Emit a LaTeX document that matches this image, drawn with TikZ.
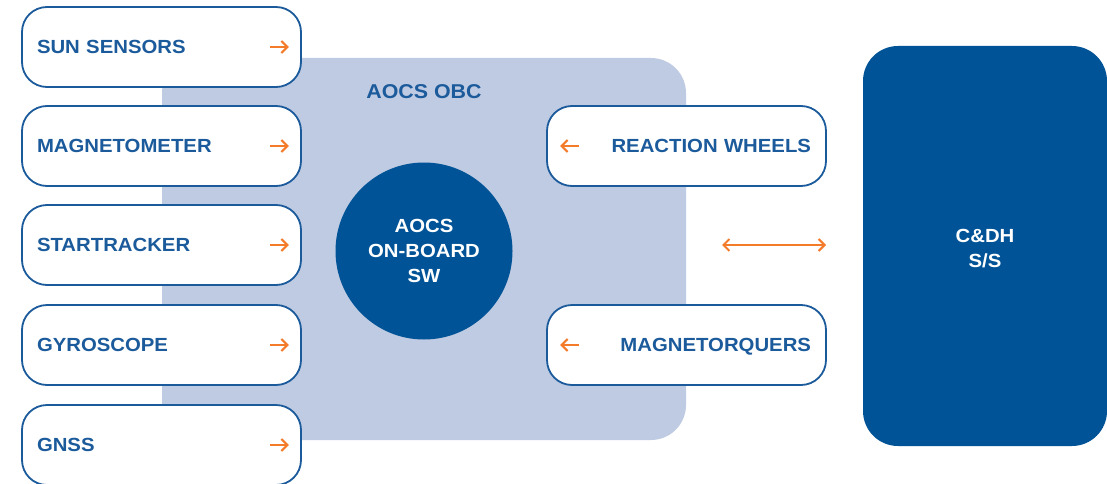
\documentclass[tikz,border=0pt]{standalone}
\usepackage{fontspec}
\setmainfont{Liberation Sans}
\newfontfamily\labfont[FakeStretch=1.07]{Liberation Sans}
\usetikzlibrary{arrows.meta}
\definecolor{navy}{HTML}{1B5A9B}
\definecolor{deep}{HTML}{005396}
\definecolor{pale}{HTML}{BFCBE2}
\definecolor{orng}{HTML}{F47B2A}
\begin{document}
\begin{tikzpicture}[x=1pt,y=1pt,
  lab/.style={font=\labfont\bfseries\fontsize{19}{25}\selectfont},
  inbox/.style={draw=navy, line width=1.8pt, fill=white, rounded corners=25pt,
    minimum width=279pt, minimum height=80pt, text=navy, lab, anchor=center,
    text height=13.7pt, text depth=0pt},
  lbox/.style={inbox, text width=249pt, align=left, inner xsep=15pt},
  rbox/.style={inbox, text width=249pt, align=right, inner xsep=14pt},
  oarrow/.style={draw=orng, line width=2.1pt, -{Straight Barb[length=6pt,width=12pt]}},
  darrow/.style={draw=orng, line width=2.1pt, {Straight Barb[length=6pt,width=12pt]}-{Straight Barb[length=6pt,width=12pt]}}
]
\useasboundingbox (0,0) rectangle (1107,483);
\clip (0,0) rectangle (1107,483);
% AOCS OBC background
\node[fill=pale, rounded corners=35pt, minimum width=524pt, minimum height=382pt, inner sep=0pt] (obc) at (424,234) {};
\node[text=navy, font=\labfont\bfseries\fontsize{20}{24}\selectfont] (obct) at (424,391) {AOCS OBC};
\node[circle, fill=deep, minimum size=177pt, inner sep=0pt, text=white, align=center, lab] (sw) at (424,232) {AOCS\\ON-BOARD\\SW};
% left boxes
\node[lbox] (b1) at (161.5,436) {SUN SENSORS};
\node[lbox] (b2) at (161.5,337) {MAGNETOMETER};
\node[lbox] (b3) at (161.5,238) {STARTRACKER};
\node[lbox] (b4) at (161.5,138) {GYROSCOPE};
\node[lbox] (b5) at (161.5,38) {GNSS};
\foreach \b in {b1,b2,b3,b4,b5}{
  \draw[oarrow] ([xshift=-32pt]\b.east) -- ([xshift=-13pt]\b.east);
}
% right boxes
\node[rbox] (r1) at (686.5,337) {REACTION WHEELS};
\node[rbox] (r2) at (686.5,138) {MAGNETORQUERS};
\foreach \b in {r1,r2}{
  \draw[oarrow] ([xshift=33pt]\b.west) -- ([xshift=14pt]\b.west);
}
% C&DH
\node[fill=deep, rounded corners=35pt, minimum width=244pt, minimum height=400pt, inner sep=0pt] (cdh) at (985,237) {};
\node[text=white, align=center, lab] (cdht) at (985,234) {C\&DH\\S/S};
\coordinate (pa) at (722,238);
\coordinate (pb) at (826,238);
\draw[darrow] (pa) -- (pb);
\end{tikzpicture}
\end{document}
